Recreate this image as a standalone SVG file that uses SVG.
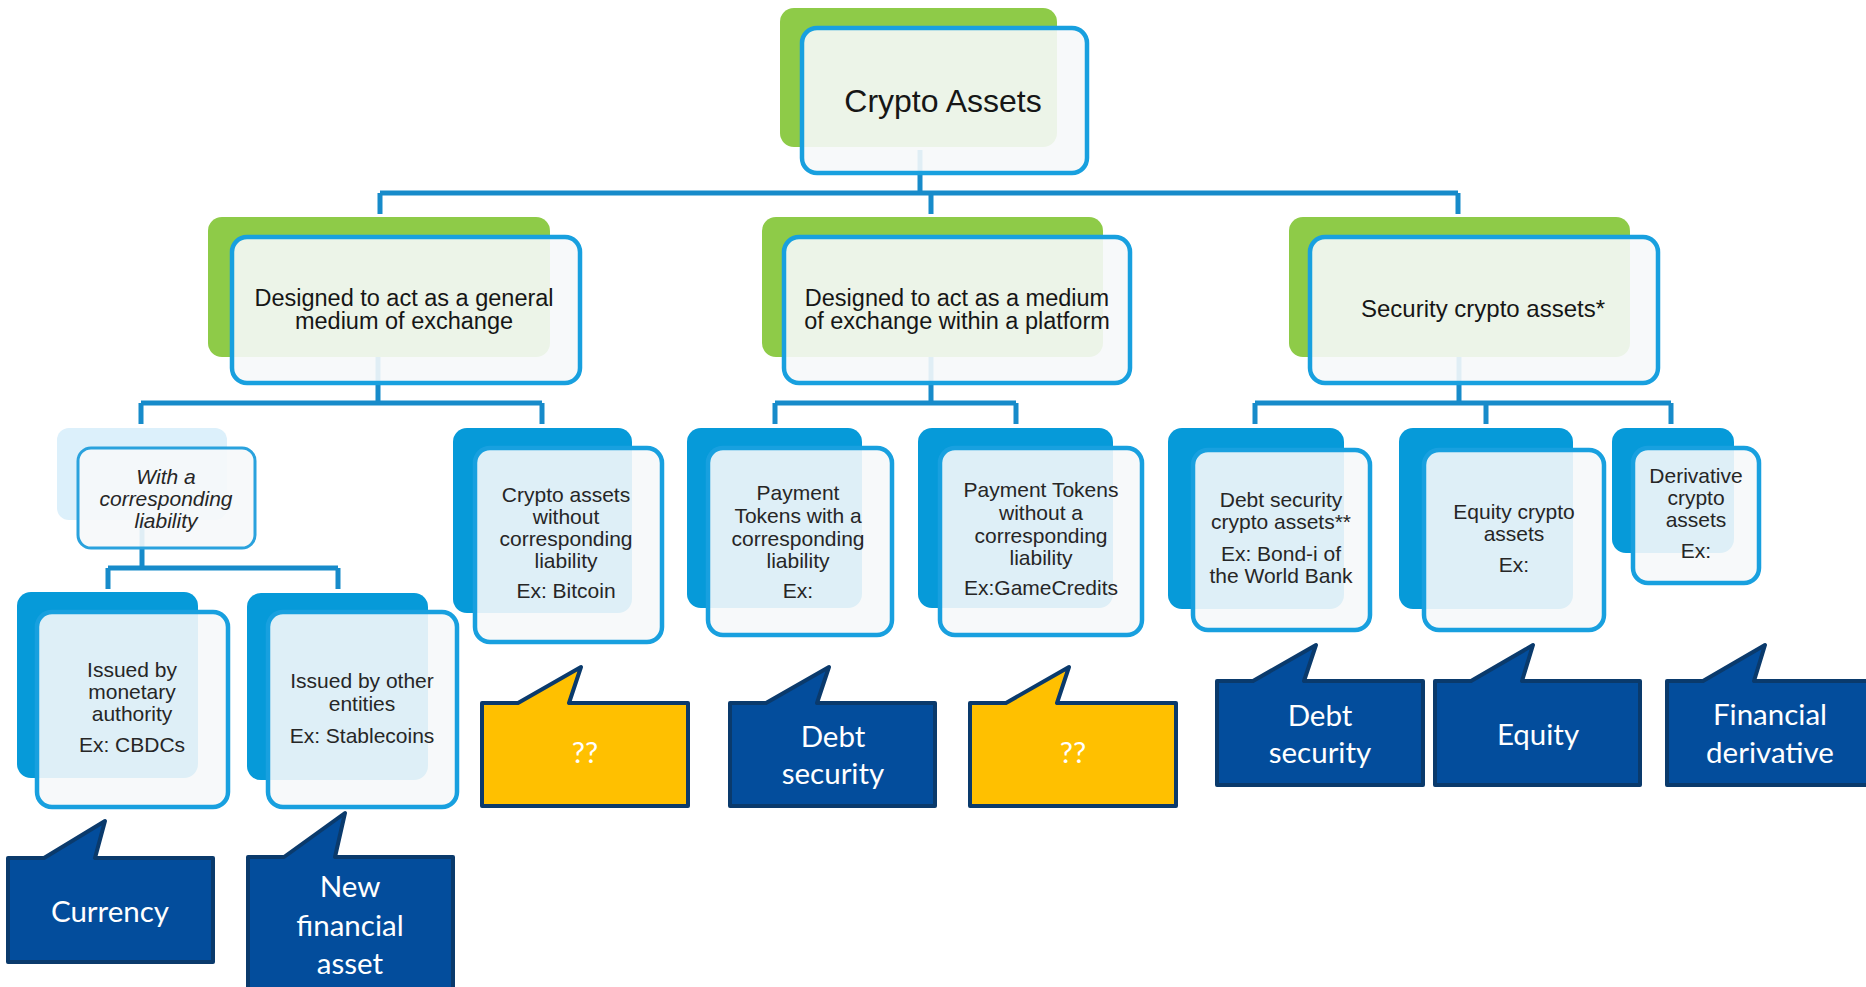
<svg xmlns="http://www.w3.org/2000/svg" width="1866" height="987" viewBox="0 0 1866 987">
<style>
.g{fill:#8ecb48}
.b{fill:#069ad9}
.lb{fill:#dcf0fb}
.f{fill:#f6f8fa;fill-opacity:0.9;stroke:#18a0df;stroke-width:4.5}
.fl{fill:#f6f8fa;fill-opacity:0.9;stroke:#2aa2dd;stroke-width:3}
.t{font-family:"Liberation Sans",Arial,sans-serif;fill:#161616;text-anchor:middle}
.t2{font-family:"Liberation Sans",Arial,sans-serif;fill:#262626;text-anchor:middle;font-size:21px}
.cn{fill:none;stroke:#178bca;stroke-width:5}
.co{fill:#034d9c;stroke:#0a3a6c;stroke-width:4;stroke-linejoin:round}
.cy{fill:#ffc000;stroke:#0a3a6c;stroke-width:4;stroke-linejoin:round}
.ct{font-family:Lato,"Liberation Sans",sans-serif;font-size:29.5px;fill:#ffffff;text-anchor:middle}
</style>
<rect width="1866" height="987" fill="#ffffff"/>
<g id="connectors">
<path class="cn" d="M920,150 V193 M380,193 H1458 M380,193 V214 M931,193 V214 M1458,193 V214"/>
<path class="cn" d="M378,357 V403 M141,403 H542 M141,403 V424 M542,403 V424"/>
<path class="cn" d="M931,357 V403 M775,403 H1016 M775,403 V424 M1016,403 V424"/>
<path class="cn" d="M1459,357 V403 M1255,403 H1671 M1255,403 V424 M1486,403 V424 M1671,403 V424"/>
<path class="cn" d="M142,520 V568 M108,568 H338 M108,568 V589 M338,568 V589"/>
</g>
<g id="crypto-assets">
<rect class="g" x="780" y="8" width="277" height="139" rx="14"/>
<rect class="f" x="802" y="28" width="285" height="145" rx="15"/>
<text class="t" x="943" y="112" font-size="32">Crypto Assets</text>
</g>
<g id="general-medium">
<rect class="g" x="208" y="217" width="342" height="140" rx="14"/>
<rect class="f" x="232" y="237" width="348" height="146" rx="15"/>
<text class="t" x="404" y="306" font-size="23.5">Designed to act as a general</text>
<text class="t" x="404" y="329" font-size="23.5">medium of exchange</text>
</g>
<g id="platform-medium">
<rect class="g" x="762" y="217" width="341" height="140" rx="14"/>
<rect class="f" x="784" y="237" width="346" height="146" rx="15"/>
<text class="t" x="957" y="306" font-size="23.5">Designed to act as a medium</text>
<text class="t" x="957" y="329" font-size="23.5">of exchange within a platform</text>
</g>
<g id="security-crypto">
<rect class="g" x="1289" y="217" width="341" height="140" rx="14"/>
<rect class="f" x="1310" y="237" width="348" height="146" rx="15"/>
<text class="t" x="1483" y="317" font-size="24">Security crypto assets*</text>
</g>
<g id="with-liability">
<rect class="lb" x="57" y="428" width="170" height="92" rx="12"/>
<rect class="fl" x="78" y="448" width="177" height="100" rx="13"/>
<text class="t2" font-style="italic" x="166" y="484">With a</text>
<text class="t2" font-style="italic" x="166" y="506">corresponding</text>
<text class="t2" font-style="italic" x="166" y="528">liability</text>
</g>
<g id="monetary-authority">
<rect class="b" x="17" y="592" width="181" height="186" rx="14"/>
<rect class="f" x="37" y="612" width="191" height="195" rx="15"/>
<text class="t2" x="132" y="677">Issued by</text>
<text class="t2" x="132" y="699">monetary</text>
<text class="t2" x="132" y="721">authority</text>
<text class="t2" x="132" y="752">Ex: CBDCs</text>
</g>
<g id="other-entities">
<rect class="b" x="247" y="593" width="181" height="187" rx="14"/>
<rect class="f" x="268" y="612" width="189" height="195" rx="15"/>
<text class="t2" x="362" y="688">Issued by other</text>
<text class="t2" x="362" y="711">entities</text>
<text class="t2" x="362" y="743">Ex: Stablecoins</text>
</g>
<g id="without-liability">
<rect class="b" x="453" y="428" width="179" height="185" rx="14"/>
<rect class="f" x="475" y="448" width="187" height="194" rx="15"/>
<text class="t2" x="566" y="502">Crypto assets</text>
<text class="t2" x="566" y="524">without</text>
<text class="t2" x="566" y="546">corresponding</text>
<text class="t2" x="566" y="568">liability</text>
<text class="t2" x="566" y="598">Ex: Bitcoin</text>
</g>
<g id="payment-with">
<rect class="b" x="687" y="428" width="175" height="180" rx="14"/>
<rect class="f" x="708" y="448" width="184" height="187" rx="15"/>
<text class="t2" x="798" y="500">Payment</text>
<text class="t2" x="798" y="523">Tokens with a</text>
<text class="t2" x="798" y="546">corresponding</text>
<text class="t2" x="798" y="568">liability</text>
<text class="t2" x="798" y="598">Ex:</text>
</g>
<g id="payment-without">
<rect class="b" x="918" y="428" width="195" height="180" rx="14"/>
<rect class="f" x="940" y="448" width="202" height="187" rx="15"/>
<text class="t2" x="1041" y="497">Payment Tokens</text>
<text class="t2" x="1041" y="520">without a</text>
<text class="t2" x="1041" y="543">corresponding</text>
<text class="t2" x="1041" y="565">liability</text>
<text class="t2" x="1041" y="595">Ex:GameCredits</text>
</g>
<g id="debt-security-crypto">
<rect class="b" x="1168" y="428" width="176" height="181" rx="14"/>
<rect class="f" x="1193" y="450" width="177" height="180" rx="15"/>
<text class="t2" x="1281" y="507">Debt security</text>
<text class="t2" x="1281" y="529">crypto assets**</text>
<text class="t2" x="1281" y="561">Ex: Bond-i of</text>
<text class="t2" x="1281" y="583">the World Bank</text>
</g>
<g id="equity-crypto">
<rect class="b" x="1399" y="428" width="174" height="181" rx="14"/>
<rect class="f" x="1424" y="450" width="180" height="180" rx="15"/>
<text class="t2" x="1514" y="519">Equity crypto</text>
<text class="t2" x="1514" y="541">assets</text>
<text class="t2" x="1514" y="572">Ex:</text>
</g>
<g id="derivative-crypto">
<rect class="b" x="1612" y="428" width="122" height="125" rx="14"/>
<rect class="f" x="1633" y="448" width="126" height="135" rx="15"/>
<text class="t2" x="1696" y="483">Derivative</text>
<text class="t2" x="1696" y="505">crypto</text>
<text class="t2" x="1696" y="527">assets</text>
<text class="t2" x="1696" y="558">Ex:</text>
</g>
<g id="callout-currency">
<path class="co" d="M8,858 H44 L105,821 L95,858 H213 V962 H8 Z"/>
<text class="ct" x="110" y="922">Currency</text>
</g>
<g id="callout-new-financial-asset">
<path class="co" d="M248,857 H284 L345,813 L335,857 H453 V1000 H248 Z"/>
<text class="ct" x="350" y="897">New</text>
<text class="ct" x="350" y="936">financial</text>
<text class="ct" x="350" y="974">asset</text>
</g>
<g id="callout-unknown-1">
<path class="cy" d="M482,703 H518 L581,667 L569,703 H688 V806 H482 Z"/>
<text class="ct" x="585" y="763">??</text>
</g>
<g id="callout-debt-mid">
<path class="co" d="M730,703 H766 L829,667 L817,703 H935 V806 H730 Z"/>
<text class="ct" x="833" y="747">Debt</text>
<text class="ct" x="833" y="784">security</text>
</g>
<g id="callout-unknown-2">
<path class="cy" d="M970,703 H1006 L1069,667 L1057,703 H1176 V806 H970 Z"/>
<text class="ct" x="1073" y="763">??</text>
</g>
<g id="callout-debt-right">
<path class="co" d="M1217,681 H1253 L1316,645 L1304,681 H1423 V785 H1217 Z"/>
<text class="ct" x="1320" y="726">Debt</text>
<text class="ct" x="1320" y="763">security</text>
</g>
<g id="callout-equity">
<path class="co" d="M1435,681 H1471 L1533,645 L1522,681 H1640 V785 H1435 Z"/>
<text class="ct" x="1538" y="745">Equity</text>
</g>
<g id="callout-financial-derivative">
<path class="co" d="M1667,681 H1703 L1765,645 L1754,681 H1875 V785 H1667 Z"/>
<text class="ct" x="1770" y="725">Financial</text>
<text class="ct" x="1770" y="763">derivative</text>
</g>
</svg>
